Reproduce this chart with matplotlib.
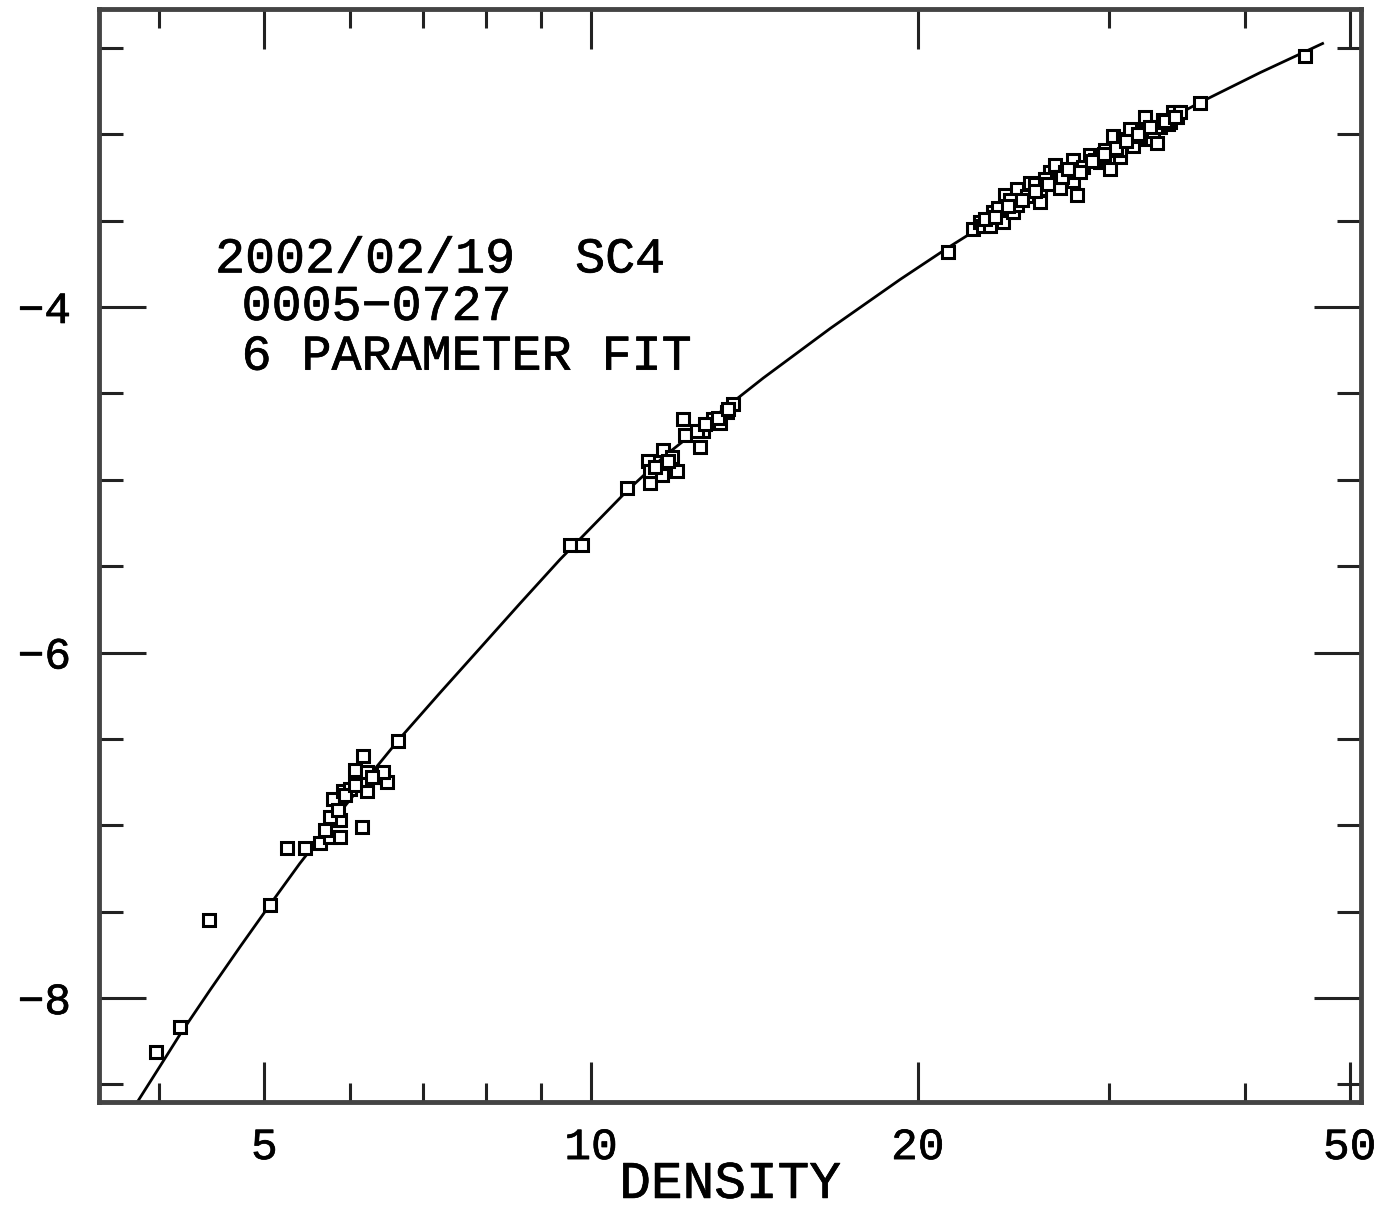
import numpy as np
import matplotlib
matplotlib.use("Agg")
from matplotlib import pyplot as plt
from matplotlib import patheffects as pe

# ---DATA---
# fitted calibration curve
fit_density = [3.82, 4.01, 4.18, 4.455, 4.75, 5.06, 5.39, 5.81, 6.26, 6.65,
               7.26, 7.90, 8.60, 9.36, 10.80, 11.70, 12.61, 14.41, 16.61, 19.26,
               21.33, 24.33, 27.93, 32.06, 36.40, 41.36, 47.20]
fit_value = [-8.60, -8.391, -8.211, -7.954, -7.702, -7.459, -7.221, -6.959, -6.706, -6.504,
             -6.232, -5.975, -5.716, -5.462, -5.062, -4.860, -4.698, -4.411, -4.124, -3.841,
             -3.656, -3.430, -3.210, -3.001, -2.816, -2.643, -2.475]

# measured points: low end
low_density = [3.97, 4.18, 4.45, 5.06, 5.25, 5.45, 5.62]
low_value = [-8.31, -8.17, -7.55, -7.46, -7.13, -7.13, -7.10]

# cluster around density 6
c6_density = [5.75, 5.87, 6.15, 5.78, 5.87, 5.75, 5.78, 5.91, 6.00, 6.22,
              6.09, 6.22, 6.43, 6.49, 6.06, 6.22, 6.43, 6.16, 6.64,
              5.93, 6.06, 6.28, 5.85, 5.69]
c6_value = [-7.07, -7.07, -7.01, -6.97, -6.97, -6.95, -6.85, -6.80, -6.79, -6.80,
            -6.74, -6.74, -6.72, -6.75, -6.68, -6.69, -6.69, -6.60, -6.51,
            -6.822, -6.764, -6.723, -6.909, -7.025]

# cluster around density 10-13
c12_density = [9.57, 9.81, 10.80, 11.33, 11.29, 11.33, 11.65, 11.63, 12.00, 11.88,
               12.16, 12.21, 12.60, 12.69, 12.52, 12.96, 13.35, 13.52, 13.15,
               12.74, 13.09, 13.38, 11.45, 11.78]
c12_value = [-5.375, -5.375, -5.045, -5.02, -4.89, -4.95, -4.83, -4.97, -4.95, -4.87,
             -4.65, -4.74, -4.81, -4.72, -4.72, -4.65, -4.61, -4.56, -4.67,
             -4.680, -4.640, -4.593, -4.929, -4.894]

# cluster around density 22-35 plus the top end
c30_density = [21.33, 22.50, 22.83, 22.98, 23.32, 23.47, 23.97, 24.08, 24.49, 24.70,
               24.70, 25.23, 25.39, 25.94, 25.94, 26.49, 26.77, 27.05, 27.05, 27.81,
               27.81, 28.05, 28.41, 28.84, 29.46, 29.46, 30.09, 30.28, 30.73, 30.73,
               30.93, 31.39, 31.59, 32.27, 32.41, 32.61, 32.96, 33.24, 33.45, 33.67,
               33.67, 34.17, 34.39, 34.68, 23.72, 24.33, 25.66, 26.21, 27.34, 29.14,
               29.77, 32.06, 34.03, 34.90, 23.07, 23.57, 24.23, 24.96, 25.66, 26.38,
               27.17, 27.52, 28.23, 28.96, 29.71, 30.47, 31.12, 31.92, 32.75, 33.82,
               34.53, 36.40, 45.50]
c30_value = [-3.68, -3.55, -3.51, -3.53, -3.53, -3.45, -3.51, -3.35, -3.45, -3.32,
             -3.41, -3.36, -3.28, -3.32, -3.39, -3.22, -3.18, -3.31, -3.25, -3.15,
             -3.27, -3.35, -3.19, -3.12, -3.13, -3.16, -3.20, -3.01, -3.13, -3.09,
             -3.03, -2.97, -3.07, -2.99, -2.90, -3.03, -2.98, -3.05, -2.96, -2.93,
             -2.92, -2.93, -2.87, -2.90, -3.43, -3.38, -3.29, -3.26, -3.22, -3.15,
             -3.09, -3.01, -2.94, -2.87, -3.493, -3.482, -3.418, -3.378, -3.331, -3.291,
             -3.250, -3.204, -3.216, -3.158, -3.117, -3.077, -3.042, -3.001, -2.961, -2.926,
             -2.903, -2.82, -2.55]

x_major = [5, 10, 20, 50]
x_minor = [4, 6, 7, 8, 9, 30, 40]
y_major = [-8, -6, -4]
y_minor = [-8.5, -7.5, -7, -6.5, -5.5, -5, -4.5, -3.5, -3, -2.5]
note_lines = ["2002/02/19  SC4", "0005\u22120727", "6 PARAMETER FIT"]

MONO = "Liberation Mono"
thick = [pe.withStroke(linewidth=0.5, foreground="black")]

fig = plt.figure(figsize=(13.88, 12.08), dpi=100)
ax = fig.add_axes([0.0713, 0.0877, 0.9092, 0.9049])

ax.plot(fit_density, fit_value, color="black", lw=2.0, zorder=2)
for xs, ys in [(low_density, low_value), (c6_density, c6_value),
               (c12_density, c12_value), (c30_density, c30_value)]:
    ax.plot(xs, ys, ls="none", marker="s", ms=8.5, mfc="white", mec="black",
            mew=2.2, zorder=3)

ax.set_xscale("log")
ax.set_xlim(3.52, 51.2)
ax.set_ylim(-8.602, -2.275)

ax.set_xticks(x_major, labels=[str(v) for v in x_major])
ax.set_xticks(x_minor, minor=True)
ax.set_xticklabels([], minor=True)
ax.set_yticks(y_major, labels=["\u2212" + str(abs(v)) for v in y_major])
ax.set_yticks(y_minor, minor=True)

ax.tick_params(axis="both", which="both", direction="in", top=True, right=True,
               width=2.2, color="#222222")
ax.tick_params(axis="x", which="major", length=29, pad=18)
ax.tick_params(axis="x", which="minor", length=14)
ax.tick_params(axis="y", which="major", length=34, pad=20)
ax.tick_params(axis="y", which="minor", length=17)
for lab in ax.get_xticklabels() + ax.get_yticklabels():
    lab.set_fontfamily(MONO)
    lab.set_fontsize(32)
    lab.set_path_effects(thick)

for sp in ax.spines.values():
    sp.set_linewidth(3.5)
    sp.set_color("#444444")

ax.set_xlabel("DENSITY", fontfamily=MONO, fontsize=38, path_effects=thick)
ax.xaxis.set_label_coords(0.5, -0.052)

# annotation block in the upper left
ax.text(0.092, 0.759, note_lines[0], transform=ax.transAxes, fontfamily=MONO,
        fontsize=36, va="baseline", ha="left", path_effects=thick)
ax.text(0.113, 0.7155, note_lines[1], transform=ax.transAxes, fontfamily=MONO,
        fontsize=36, va="baseline", ha="left", path_effects=thick)
ax.text(0.113, 0.670, note_lines[2], transform=ax.transAxes, fontfamily=MONO,
        fontsize=36, va="baseline", ha="left", path_effects=thick)

fig.savefig("out.png", dpi=100, facecolor="white")
